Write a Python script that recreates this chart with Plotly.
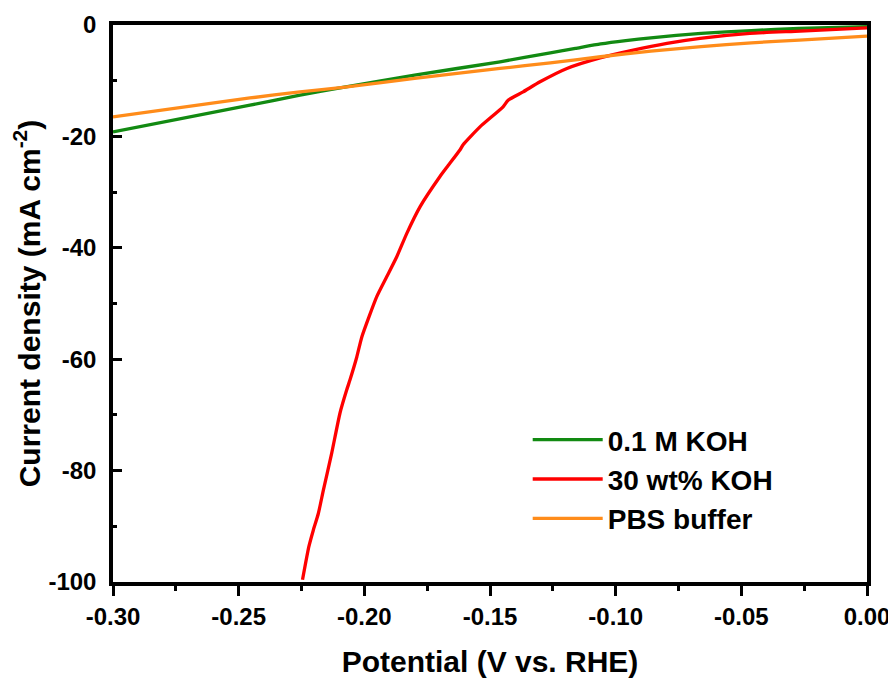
import plotly.graph_objects as go

# 0.1 M KOH (green)
koh01_x = [-0.300, -0.2455, -0.2256, -0.2085, -0.180, -0.146, -0.126, -0.116, -0.106, -0.096,
           -0.086, -0.066, -0.046, -0.027, 0.000]
koh01_y = [-19.2, -14.4, -12.6, -11.2, -9.0, -6.6, -5.0, -4.2, -3.4, -2.8,
           -2.3, -1.5, -1.0, -0.6, -0.3]

# 30 wt% KOH (red)
koh30_x = [-0.2246, -0.2221, -0.2203, -0.2183, -0.2163, -0.2130, -0.2097, -0.2070, -0.2057,
           -0.2030, -0.2010, -0.1951, -0.1911, -0.1871, -0.1831, -0.1778, -0.1699, -0.1671,
           -0.1619, -0.1607, -0.1540, -0.1448, -0.1428, -0.1368, -0.1301, -0.1194, -0.1062,
           -0.0930, -0.0796, -0.0664, -0.0466, -0.0266, 0.000]
koh30_y = [-99.6, -93.7, -90.7, -87.7, -83.5, -76.9, -69.7, -65.5, -63.7,
           -59.6, -56.0, -48.8, -45.2, -41.6, -37.4, -32.6, -27.2, -25.5,
           -22.4, -21.5, -18.3, -14.7, -13.5, -12.0, -10.2, -7.8, -5.9,
           -4.5, -3.3, -2.4, -1.5, -1.1, -0.5]

# PBS buffer (orange)
pbs_x = [-0.300, -0.2455, -0.2256, -0.2085, -0.180, -0.146, -0.126, -0.106, -0.086, -0.066,
         -0.046, -0.027, 0.000]
pbs_y = [-16.5, -13.1, -12.0, -11.2, -9.6, -7.8, -6.8, -5.7, -4.7, -3.9,
         -3.2, -2.7, -2.0]

x_ticks = [-0.30, -0.25, -0.20, -0.15, -0.10, -0.05, 0.00]
x_ticklabels = ["-0.30", "-0.25", "-0.20", "-0.15", "-0.10", "-0.05", "0.00"]
y_ticks = [0, -20, -40, -60, -80, -100]
y_ticklabels = ["0", "-20", "-40", "-60", "-80", "-100"]

FONT = "Liberation Sans, Arial, sans-serif"

fig = go.Figure()
fig.add_trace(go.Scatter(x=koh01_x, y=koh01_y, mode="lines", name="0.1 M KOH",
                         line=dict(color="#128a12", width=3.3, shape="spline", smoothing=0.5)))
fig.add_trace(go.Scatter(x=koh30_x, y=koh30_y, mode="lines", name="30 wt% KOH",
                         line=dict(color="#ff0000", width=3.3, shape="spline", smoothing=0.5)))
fig.add_trace(go.Scatter(x=pbs_x, y=pbs_y, mode="lines", name="PBS buffer",
                         line=dict(color="#ff8c1a", width=3.3, shape="spline", smoothing=0.5)))

fig.update_layout(
    width=888, height=674, autosize=False,
    margin=dict(l=105, r=29, t=17, b=100, autoexpand=False),
    plot_bgcolor="white", paper_bgcolor="white",
    font=dict(family=FONT, color="black", size=24, weight="bold"),
    showlegend=True,
    legend=dict(x=0.550, y=0.30, xanchor="left", yanchor="top",
                bgcolor="rgba(0,0,0,0)", itemwidth=70, tracegroupgap=0,
                font=dict(family=FONT, size=28, color="black", weight="bold")),
)

fig.update_xaxes(
    range=[-0.30, 0.00], tickvals=x_ticks, ticktext=x_ticklabels,
    automargin=False, ticklabeloverflow="allow",
    showgrid=False, zeroline=False,
    showline=True, linecolor="black", linewidth=3.5, mirror=True,
    ticks="outside", ticklen=10, tickwidth=3, tickcolor="black",
    minor=dict(dtick=0.025, ticks="outside", ticklen=5, tickwidth=3, tickcolor="black", showgrid=False),
    tickfont=dict(family=FONT, size=24, weight="bold"),
    title=dict(text="Potential (V vs. RHE)", font=dict(family=FONT, size=30, weight="bold"), standoff=23),
)
fig.update_yaxes(
    range=[-100, 0], tickvals=y_ticks, ticktext=y_ticklabels,
    automargin=False, ticklabeloverflow="allow",
    showgrid=False, zeroline=False,
    showline=True, linecolor="black", linewidth=3.5, mirror=True,
    ticks="inside", ticklen=9, tickwidth=3, tickcolor="black",
    minor=dict(dtick=10, ticks="inside", ticklen=4, tickwidth=3, tickcolor="black", showgrid=False),
    tickfont=dict(family=FONT, size=24, weight="bold"),
    ticklabelstandoff=8,
    title=dict(text="Current density (mA cm<sup>-2</sup>)", font=dict(family=FONT, size=30, weight="bold"), standoff=9),
)

fig.write_html("out.html")
